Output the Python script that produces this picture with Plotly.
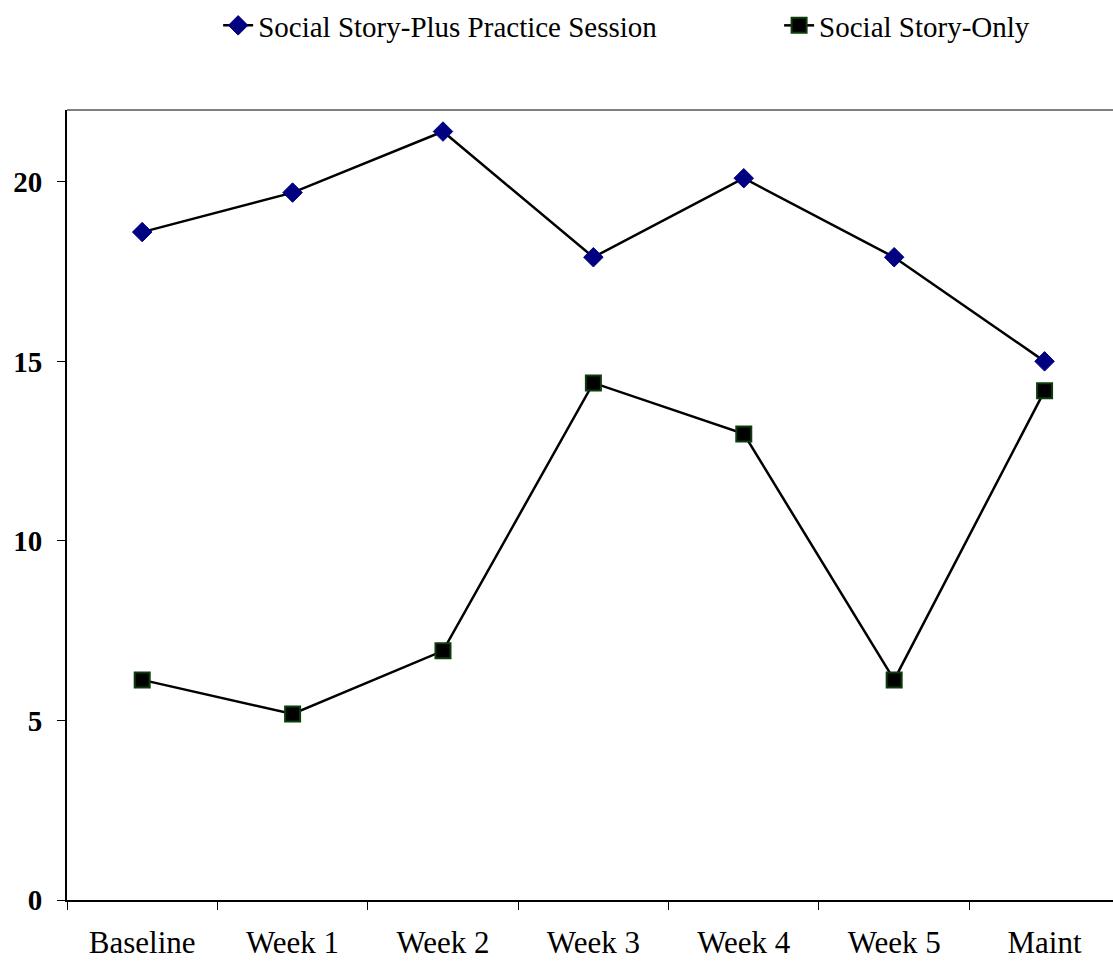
import plotly.graph_objects as go

# Weekly scores for the two intervention groups
weeks = ["Baseline", "Week 1", "Week 2", "Week 3", "Week 4", "Week 5", "Maint"]
plus_practice = [18.6, 19.7, 21.4, 17.9, 20.1, 17.9, 15.0]
story_only = [6.13, 5.18, 6.94, 14.4, 12.98, 6.13, 14.18]
y_ticks = [0, 5, 10, 15, 20]

serif = "Liberation Serif, Times New Roman, serif"

fig = go.Figure()
fig.add_trace(go.Scatter(
    x=weeks, y=plus_practice, name="Social Story-Plus Practice Session",
    mode="lines+markers", legend="legend", showlegend=True,
    line=dict(color="black", width=2.5),
    marker=dict(symbol="diamond", size=15, color="#000080",
                line=dict(color="#000080", width=1)),
))
fig.add_trace(go.Scatter(
    x=weeks, y=story_only, name="Social Story-Only",
    mode="lines+markers", legend="legend2", showlegend=True,
    line=dict(color="black", width=2.5),
    marker=dict(symbol="square", size=15, color="black",
                line=dict(color="#0d3d0d", width=2)),
))

# grey frame along the top of the plot area
fig.add_shape(type="line", xref="paper", yref="paper", x0=0, x1=1, y0=1, y1=1,
              line=dict(color="#808080", width=2))

legend_style = dict(
    orientation="h", xref="container", yref="container",
    y=1.0, xanchor="left", yanchor="top",
    font=dict(size=29, family=serif, color="black"),
    bgcolor="rgba(0,0,0,0)",
)

fig.update_layout(
    width=1113, height=961,
    showlegend=True,
    margin=dict(l=67, r=0, t=110, b=61),
    paper_bgcolor="white", plot_bgcolor="white",
    font=dict(family=serif, color="black"),
    legend=dict(x=0.196, **legend_style),
    legend2=dict(x=0.7, **legend_style),
    xaxis=dict(
        type="category", range=[-0.5, 6.455],
        tickson="boundaries", ticks="outside", ticklen=8, tickcolor="black",
        showline=True, linecolor="black", linewidth=2, showgrid=False,
        tickfont=dict(size=31, family=serif), ticklabelstandoff=14,
    ),
    yaxis=dict(
        range=[0, 22], tickvals=y_ticks, ticks="outside", ticklen=8,
        tickcolor="black", showline=True, linecolor="black", linewidth=2,
        showgrid=False, zeroline=False, ticklabelstandoff=9,
        tickfont=dict(size=29, family=serif, weight="bold"),
    ),
)

fig.write_html("out.html")
